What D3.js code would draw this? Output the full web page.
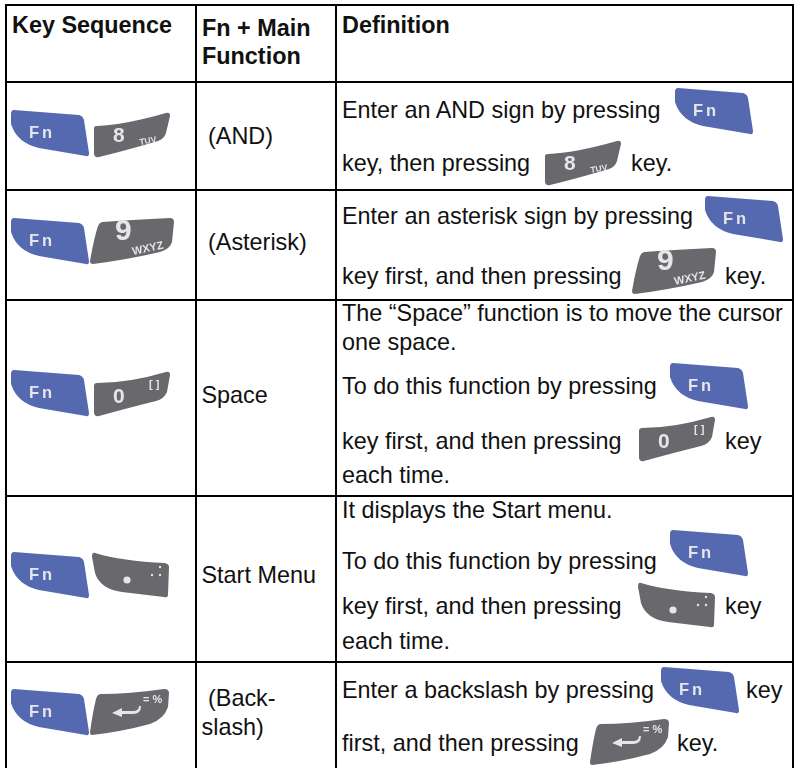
<!DOCTYPE html>
<html>
<head>
<meta charset="utf-8">
<script src="https://cdn.jsdelivr.net/npm/d3@7/dist/d3.min.js"></script>
<style>
  html, body { margin: 0; padding: 0; background: #fff; }
  svg { display: block; }
  text { font-family: "Liberation Sans", Arial, sans-serif; fill: #111; }
</style>
</head>
<body>
<script>
// TABLE CONTENT
var headers = [["Key Sequence"], ["Fn + Main", "Function"], ["Definition"]];
var mainFunctions = [["(AND)"], ["(Asterisk)"], ["Space"], ["Start Menu"], ["(Back-", "slash)"]];
var definitions = [
    ["Enter an AND sign by pressing", "key, then pressing", "key."],
    ["Enter an asterisk sign by pressing", "key first, and then pressing", "key."],
    ["The \u201CSpace\u201D function is to move the cursor", "one space.", "To do this function by pressing", "key first, and then pressing", "key", "each time."],
    ["It displays the Start menu.", "To do this function by pressing", "key first, and then pressing", "key", "each time."],
    ["Enter a backslash by pressing", "key", "first, and then pressing", "key."]
];

// LAYOUT
var width = 794, height = 768;
var colEdges = [6, 196, 336, 793];
var rowEdges = [5, 82, 190, 300, 496, 662];
var fontSize = 23.4;

var col = d3.scaleOrdinal().domain(d3.range(4)).range(colEdges);
var row = d3.scaleOrdinal().domain(d3.range(6)).range(rowEdges);

// text placement inside the body rows: [x, baseline]
var defPlaces = [
    [[342, 118], [342, 171], [631, 171]],
    [[342, 224], [342, 284], [725, 284]],
    [[342, 320.5], [342, 350], [342, 394], [342, 449], [725, 449], [342, 483]],
    [[342, 518], [342, 569], [342, 614], [725, 614], [342, 649]],
    [[342, 698], [746, 698], [342, 750.5], [677, 750.5]]
];
var mainPlaces = [[[208, 143.5]], [[208, 249.5]], [[201.5, 402.5]], [[201.5, 582.5]], [[208, 706], [201.5, 735]]];
var headPlaces = [[[12, 33]], [[202, 36], [202, 64]], [[342, 33]]];

// key icons: [kind, x, y]
var keyPlaces = [
    ["fn", 11, 110], ["eight", 94, 113],
    ["fn", 11, 218], ["nine", 90, 218],
    ["fn", 11, 370], ["zero", 94, 372],
    ["fn", 11, 552], ["dot", 92, 553],
    ["fn", 11, 689], ["enter", 90, 689],
    ["fn", 675, 88], ["eight", 545, 141],
    ["fn", 705, 196], ["nine", 632, 248],
    ["fn", 670, 363], ["zero", 639, 417],
    ["fn", 670, 530], ["dot", 638, 583],
    ["fn", 661, 667], ["enter", 590, 719]
];

var fnBlue = "#5569b0", keyGray = "#69686c", keyInk = "#e6e6ea";

var keyShapes = {
    fn: "M3,0 L68,5 Q72,6 73,10 L78,43 Q78,47 75,46 L28,38 Q6,33 0,14 L0,4 Q0,0 3,0 Z",
    eight: "M3,13 Q30,12 72,0 Q76,-1 76,3 L72,20 Q70,26 64,28 Q30,38 5,44 Q1,45 0,41 L0,15 Q0,13 3,13 Z",
    zero: "M3,11 Q35,11 72,0 Q76,-1 76,3 L73,20 Q70,27 62,29 Q30,37 5,44 Q1,45 0,41 L0,14 Q0,11 3,11 Z",
    nine: "M12,4 Q40,2 80,0 Q84,0 84,4 L82,24 Q80,31 70,34 Q35,42 3,46 Q0,46 0,43 Q4,20 8,8 Q9,5 12,4 Z",
    enter: "M10,5 Q40,5 74,0 Q79,0 79,4 L78,18 Q74,30 60,35 Q30,43 2,46 Q0,46 0,43 Q3,22 6,10 Q7,6 10,5 Z",
    dot: "M3,0 Q30,8 73,10 Q77,11 77,14 L76,42 Q76,45 72,44 L30,39 Q8,36 3,20 L0,4 Q0,-1 3,0 Z"
};

var svg = d3.select("body").append("svg")
    .attr("width", width)
    .attr("height", height);

var soft = svg.append("defs").append("filter")
    .attr("id", "soft")
    .attr("x", "-10%").attr("y", "-10%").attr("width", "120%").attr("height", "120%");
soft.append("feGaussianBlur").attr("stdDeviation", 0.45);

function keyLabel(g, txt, x, y, size, angle, spacing) {
    g.append("text")
        .attr("transform", "translate(" + x + "," + y + ") rotate(" + (angle || 0) + ")")
        .attr("font-size", size)
        .attr("font-weight", "bold")
        .attr("letter-spacing", spacing || 0)
        .style("fill", keyInk)
        .text(txt);
}

// little hand drawn caps on each key
var keyCaps = {
    fn: function(g) { keyLabel(g, "Fn", 18, 28, 16.5, 0, 3); },
    eight: function(g) { keyLabel(g, "8", 19, 29, 21); keyLabel(g, "TUV", 46, 32, 8.5, -10); },
    zero: function(g) { keyLabel(g, "0", 19, 31, 21); keyLabel(g, "[ ]", 55, 16, 11); },
    nine: function(g) { keyLabel(g, "9", 25, 22, 30); keyLabel(g, "WXYZ", 43, 37, 11, -12); },
    dot: function(g) {
        g.append("circle").attr("cx", 35).attr("cy", 27).attr("r", 3.6).attr("fill", keyInk);
        [[60, 22], [68, 22], [68, 14]].forEach(function(d) {
            g.append("circle").attr("cx", d[0]).attr("cy", d[1]).attr("r", 1.2).attr("fill", keyInk);
        });
    },
    enter: function(g) {
        g.append("path")
            .attr("d", "M49,17 Q49,22 43,22 L32,22 L32,19 L22,24 L32,28 L32,25 L43,25 Q51,25 51,17 Z")
            .attr("fill", keyInk);
        keyLabel(g, "= %", 53, 14, 11, 0, 0);
    }
};

// KEYS
var keys = svg.append("g").selectAll("g")
    .data(keyPlaces)
    .enter().append("g")
    .attr("transform", function(d) { return "translate(" + d[1] + "," + d[2] + ")"; })
    .attr("filter", "url(#soft)");

keys.append("path")
    .attr("d", function(d) { return keyShapes[d[0]]; })
    .attr("fill", function(d) { return d[0] == "fn" ? fnBlue : keyGray; });

keys.each(function(d) { keyCaps[d[0]](d3.select(this)); });

// TEXT
function addLines(lines, places, weight) {
    svg.append("g").selectAll("text")
        .data(lines)
        .enter().append("text")
        .attr("x", function(d, i) { return places[i][0]; })
        .attr("y", function(d, i) { return places[i][1]; })
        .attr("font-size", fontSize)
        .attr("font-weight", weight)
        .text(function(d) { return d; });
}

headers.forEach(function(lines, i) { addLines(lines, headPlaces[i], "bold"); });
mainFunctions.forEach(function(lines, i) { addLines(lines, mainPlaces[i], "normal"); });
definitions.forEach(function(lines, i) { addLines(lines, defPlaces[i], "normal"); });

// RULES
var rules = svg.append("g").attr("stroke", "#000").attr("stroke-width", 2);

rules.selectAll(".col")
    .data(d3.range(4))
    .enter().append("line")
    .attr("class", "col")
    .attr("x1", function(d) { return col(d); })
    .attr("x2", function(d) { return col(d); })
    .attr("y1", row(0) - 1)
    .attr("y2", height);

rules.selectAll(".row")
    .data(d3.range(6))
    .enter().append("line")
    .attr("class", "row")
    .attr("x1", col(0))
    .attr("x2", col(3))
    .attr("y1", function(d) { return row(d); })
    .attr("y2", function(d) { return row(d); });
</script>
</body>
</html>
